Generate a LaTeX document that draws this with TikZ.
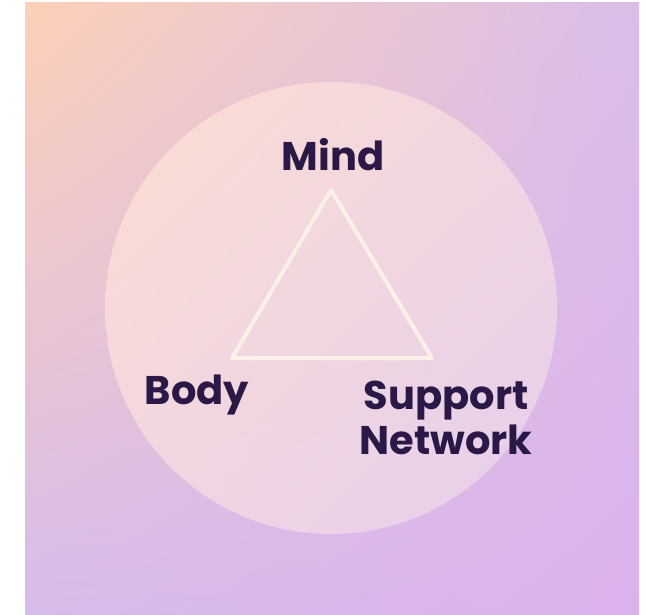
\documentclass[tikz,border=0pt]{standalone}
\usepackage{fontspec}
\usetikzlibrary{shadings}
\newfontfamily\popfont{Poppins}
\definecolor{bgUL}{HTML}{FDD0B8}
\definecolor{bgUR}{HTML}{D9BEE9}
\definecolor{bgLL}{HTML}{D6BCEA}
\definecolor{bgLR}{HTML}{DCB2EE}
\definecolor{ciUL}{HTML}{FDE0D2}
\definecolor{ciUR}{HTML}{F3D8E2}
\definecolor{ciLL}{HTML}{F4D8E2}
\definecolor{ciLR}{HTML}{E6D0EC}
\definecolor{triline}{HTML}{FBF1E8}
\definecolor{labelcol}{HTML}{2A1846}
\tikzset{
  lbl/.style={font=\popfont\bfseries\fontsize{40}{45}\selectfont, text=labelcol, align=center, inner sep=0pt},
  triedge/.style={draw=triline, line width=4pt, line join=round, line cap=round}
}
\begin{document}
\begin{tikzpicture}[x=1pt,y=-1pt]
\useasboundingbox (0,0) rectangle (646,614);
\fill[white] (0,0) rectangle (646,614);
\shade[upper left=bgUL, upper right=bgUR, lower left=bgLL, lower right=bgLR] (25,2) rectangle (639,614);
\shade[upper left=ciUL, upper right=ciUR, lower left=ciLL, lower right=ciLR, fill opacity=0.93] (331,308) circle[radius=226];
\coordinate (apex) at (331,190);
\coordinate (bl) at (232,358);
\coordinate (br) at (432,358);
\draw[triedge] (apex) -- (bl) -- (br) -- cycle;
\node[lbl] (mind) at (333,155) {Mind};
\node[lbl] (body) at (197,395) {Body};
\node[lbl] (support) at (446,418) {Support\\Network};
\end{tikzpicture}
\end{document}
